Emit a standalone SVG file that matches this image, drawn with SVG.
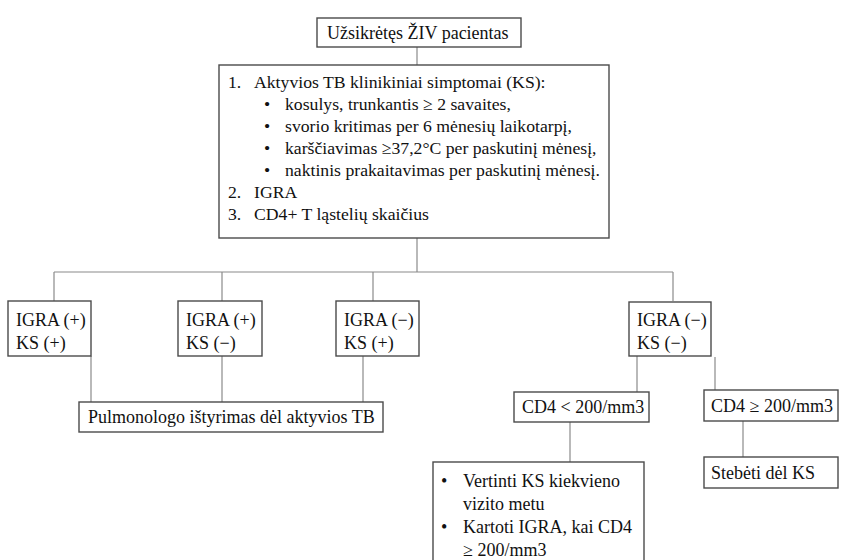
<svg xmlns="http://www.w3.org/2000/svg" width="866" height="560" viewBox="0 0 866 560">
<style>
.box{fill:#fff;stroke:#4a4a4a;stroke-width:1.4}
.t{font-family:"Liberation Serif","Times New Roman","DejaVu Serif",serif;font-size:18px;fill:#111}
.m{font-size:17.7px}
.c{stroke:#8a8a8a;stroke-width:1.2;fill:none}
</style>
<rect width="866" height="560" fill="#fff"/>
<g id="connectors">
<line class="c" x1="417" y1="47" x2="417" y2="65"/>
<line class="c" x1="417" y1="238" x2="417" y2="272"/>
<line class="c" x1="54" y1="272" x2="673" y2="272"/>
<line class="c" x1="54" y1="272" x2="54" y2="301"/>
<line class="c" x1="222" y1="272" x2="222" y2="301"/>
<line class="c" x1="373" y1="272" x2="373" y2="301"/>
<line class="c" x1="673" y1="272" x2="673" y2="301"/>
<line class="c" x1="91" y1="356" x2="91" y2="402"/>
<line class="c" x1="222" y1="356" x2="222" y2="402"/>
<line class="c" x1="363" y1="356" x2="363" y2="402"/>
<line class="c" x1="637" y1="356" x2="637" y2="392"/>
<line class="c" x1="715" y1="357" x2="715" y2="390"/>
<line class="c" x1="570" y1="422" x2="570" y2="462"/>
<line class="c" x1="743" y1="421" x2="743" y2="457"/>
</g>
<g id="n_patient">
<rect class="box" x="317" y="18" width="204" height="29"/>
<text class="t" x="327" y="39">Užsikrėtęs ŽIV pacientas</text>
</g>
<g id="n_tests">
<rect class="box" x="219" y="65" width="390" height="173"/>
<text class="t m" x="228" y="88">1.</text><text class="t m" x="254" y="88">Aktyvios TB klinikiniai simptomai (KS):</text>
<text class="t m" x="264" y="110">•</text><text class="t m" x="285" y="110">kosulys, trunkantis ≥ 2 savaites,</text>
<text class="t m" x="264" y="132">•</text><text class="t m" x="285" y="132">svorio kritimas per 6 mėnesių laikotarpį,</text>
<text class="t m" x="264" y="154">•</text><text class="t m" x="285" y="154">karščiavimas ≥37,2°C per paskutinį mėnesį,</text>
<text class="t m" x="264" y="176">•</text><text class="t m" x="285" y="176">naktinis prakaitavimas per paskutinį mėnesį.</text>
<text class="t m" x="228" y="198">2.</text><text class="t m" x="254" y="198">IGRA</text>
<text class="t m" x="228" y="220">3.</text><text class="t m" x="254" y="220">CD4+ T ląstelių skaičius</text>
</g>
<g id="n_pp">
<rect class="box" x="8" y="301" width="83" height="55"/>
<text class="t" x="16" y="326">IGRA (+)</text>
<text class="t" x="16" y="349">KS (+)</text>
</g>
<g id="n_pm">
<rect class="box" x="178" y="301" width="84" height="55"/>
<text class="t" x="186" y="326">IGRA (+)</text>
<text class="t" x="186" y="349">KS (−)</text>
</g>
<g id="n_mp">
<rect class="box" x="336" y="301" width="83" height="55"/>
<text class="t" x="344" y="326">IGRA (−)</text>
<text class="t" x="344" y="349">KS (+)</text>
</g>
<g id="n_mm">
<rect class="box" x="629" y="302" width="82" height="54"/>
<text class="t" x="637" y="326">IGRA (−)</text>
<text class="t" x="637" y="349">KS (−)</text>
</g>
<g id="n_pulm">
<rect class="box" x="79" y="402" width="304" height="30"/>
<text class="t" x="88" y="423">Pulmonologo ištyrimas dėl aktyvios TB</text>
</g>
<g id="n_cd4low">
<rect class="box" x="514" y="392" width="135" height="30"/>
<text class="t" x="522" y="413">CD4 &lt; 200/mm3</text>
</g>
<g id="n_cd4high">
<rect class="box" x="704" y="390" width="134" height="31"/>
<text class="t" x="711" y="412">CD4 ≥ 200/mm3</text>
</g>
<g id="n_monitor">
<rect class="box" x="433" y="462" width="211" height="110"/>
<text class="t" x="441" y="487">•</text><text class="t" x="463" y="487">Vertinti KS kiekvieno</text>
<text class="t" x="463" y="510">vizito metu</text>
<text class="t" x="441" y="533">•</text><text class="t" x="463" y="533">Kartoti IGRA, kai CD4</text>
<text class="t" x="463" y="556">≥ 200/mm3</text>
</g>
<g id="n_observe">
<rect class="box" x="704" y="457" width="134" height="31"/>
<text class="t" x="711" y="479">Stebėti dėl KS</text>
</g>
</svg>
